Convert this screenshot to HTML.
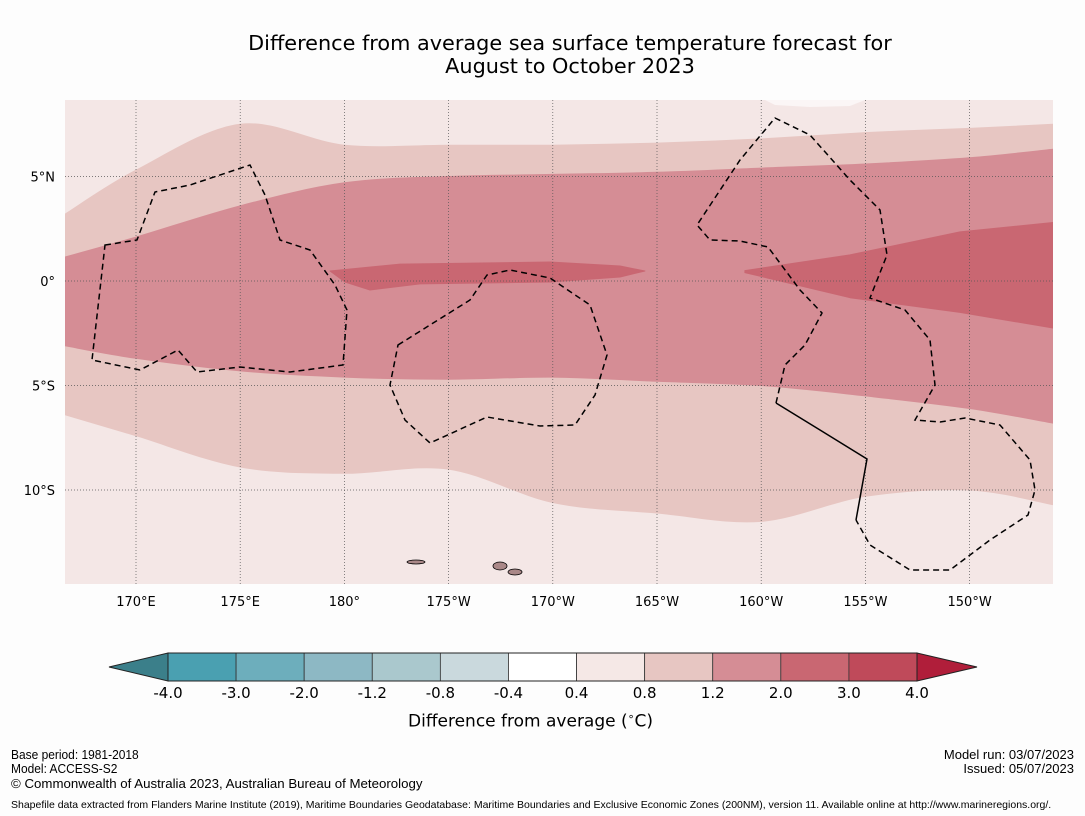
<!DOCTYPE html>
<html><head><meta charset="utf-8">
<style>
body{margin:0;background:#fdfdfd;font-family:"DejaVu Sans","Liberation Sans",sans-serif;}
#wrap{position:relative;width:1085px;height:816px;overflow:hidden;background:#fdfdfd;}
.t{position:absolute;white-space:nowrap;color:#000;}
.f{font-family:"Liberation Sans",sans-serif;}
</style></head>
<body>
<div id="wrap">
<div class="t" style="left:0;width:1140px;text-align:center;top:32px;font-size:20.8px;line-height:23px;">Difference from average sea surface temperature forecast for<br>August to October 2023</div>
<svg id="map" width="1085" height="816" style="position:absolute;left:0;top:0;font-family:'DejaVu Sans',sans-serif"></svg>
<div class="t" style="left:408px;top:710px;font-size:17px;">Difference from average (<sup style="font-size:11px">∘</sup>C)</div>
<div class="t f" style="left:11px;top:748px;font-size:13px;line-height:14px;transform:scaleX(0.92);transform-origin:left;">Base period: 1981-2018<br>Model: ACCESS-S2</div>
<div class="t f" style="left:11px;top:776px;font-size:13px;transform:scaleX(1.02);transform-origin:left;">© Commonwealth of Australia 2023, Australian Bureau of Meteorology</div>
<div class="t f" style="right:11px;top:748px;font-size:13px;line-height:14px;text-align:right;transform:scaleX(1.0);transform-origin:right;">Model run: 03/07/2023<br>Issued: 05/07/2023</div>
<div class="t f" style="left:11px;top:799px;font-size:10.5px;transform:scaleX(1.0);transform-origin:left;">Shapefile data extracted from Flanders Marine Institute (2019), Maritime Boundaries Geodatabase: Maritime Boundaries and Exclusive Economic Zones (200NM), version 11. Available online at http://www.marineregions.org/.</div>
</div>
<script>
const lonSamples=[166.6,170,175,180,185,190,195,200,205,210,214];
const c08Upper=[3.2,5.3,7.5,6.5,6.5,6.5,6.6,6.8,7.1,7.3,7.5];
const c08Lower=[-6.4,-7.4,-8.9,-9.2,-9.0,-10.6,-11.1,-11.5,-10.3,-10.0,-10.7];
const c12Upper=[1.15,2.1,3.6,4.7,5.0,5.1,5.2,5.4,5.6,5.9,6.3];
const c12Lower=[-3.1,-3.7,-4.3,-4.6,-4.7,-4.6,-4.8,-5.0,-5.5,-6.1,-6.8];
const c20BlobLon=[179.31,182.67,189.87,193.23,194.42,193.23,189.87,183.63,181.23,180.03];
const c20BlobLat=[0.48,0.81,0.91,0.72,0.48,0.19,-0.05,-0.14,-0.43,-0.05];
const c20EastLon=[199.22,204.26,209.54,214,214,209.54,204.26,199.22];
const c20EastLat=[0.5,1.25,2.35,2.8,-2.25,-1.5,-0.8,0.4];
const lonTicks=[170,175,180,185,190,195,200,205,210];
const lonTickLabels=["170°E","175°E","180°","175°W","170°W","165°W","160°W","155°W","150°W"];
const latTicks=[5,0,-5,-10];
const latTickLabels=["5°N","0°","5°S","10°S"];
const cbBounds=["-4.0","-3.0","-2.0","-1.2","-0.8","-0.4","0.4","0.8","1.2","2.0","3.0","4.0"];
const cbColors=["#4aa0b1","#6daebc","#8db8c4","#aac8cd","#cad9dd","#ffffff","#f5e8e6","#e7c6c2","#d58d95","#c96772","#bf4a5a"];

const X0=65,X1=1053,Y0=100,Y1=584;
const px=lon=>136+(lon-170)*20.84;
const py=lat=>281-lat*20.9;
const NS="http://www.w3.org/2000/svg";
const svg=document.getElementById('map');
function mk(tag,attrs,parent){const e=document.createElementNS(NS,tag);for(const k in attrs)e.setAttribute(k,attrs[k]);(parent||svg).appendChild(e);return e;}
function smooth(pts,start){
  let d=(start?'M':'L')+pts[0][0].toFixed(1)+' '+pts[0][1].toFixed(1);
  for(let i=0;i<pts.length-1;i++){
    const p0=pts[Math.max(i-1,0)],p1=pts[i],p2=pts[i+1],p3=pts[Math.min(i+2,pts.length-1)];
    const c1=[p1[0]+(p2[0]-p0[0])/6,p1[1]+(p2[1]-p0[1])/6],c2=[p2[0]-(p3[0]-p1[0])/6,p2[1]-(p3[1]-p1[1])/6];
    d+=` C${c1[0].toFixed(1)} ${c1[1].toFixed(1)} ${c2[0].toFixed(1)} ${c2[1].toFixed(1)} ${p2[0].toFixed(1)} ${p2[1].toFixed(1)}`;
  }
  return d;
}
const clip=mk('clipPath',{id:'mc'});mk('rect',{x:X0,y:Y0,width:X1-X0,height:Y1-Y0},clip);
const g=mk('g',{'clip-path':'url(#mc)'});
const bg=mk('rect',{x:X0,y:Y0,width:X1-X0,height:Y1-Y0,fill:'#f4e7e6'},g);


const white=mk('path',{d:'M765 100 L775 105 L810 107 L850 106 L865 100 Z',fill:'#fbf6f6'},g);


function band(up,lo,color,name){
  const U=lonSamples.map((l,i)=>[px(l),py(up[i])]);
  const L=lonSamples.map((l,i)=>[px(l),py(lo[i])]).reverse();
  const d=smooth(U,true)+' '+smooth(L,false)+' Z';
  const p=mk('path',{d,fill:color,stroke:color,'stroke-width':1},g);
  
  
}
band(c08Upper,c08Lower,'#e7c6c2','contour-0-8');
band(c12Upper,c12Lower,'#d58d95','contour-1-2');
function poly(lons,lats,color,name){
  const pts=lons.map((l,i)=>px(l).toFixed(1)+','+py(lats[i]).toFixed(1)).join(' ');
  const p=mk('polygon',{points:pts,fill:color,stroke:color,'stroke-linejoin':'round'},g);
  
  
}
poly(c20BlobLon,c20BlobLat,'#c96772','contour-2-0-central');
poly(c20EastLon,c20EastLat,'#c96772','contour-2-0-east');
lonTicks.forEach(l=>{const ln=mk('line',{x1:px(l),x2:px(l),y1:Y0,y2:Y1,stroke:'#555','stroke-width':0.7,'stroke-dasharray':'1,2'},g);

});
latTicks.forEach(l=>{const ln=mk('line',{x1:X0,x2:X1,y1:py(l),y2:py(l),stroke:'#555','stroke-width':0.7,'stroke-dasharray':'1,2'},g);

});
const eez=[
"M105 245 L137 240 L155 192 L190 185 L250 165 L265 195 L280 240 L310 250 L335 285 L347 310 L343 365 L290 372 L240 367 L197 372 L178 350 L140 370 L92 360 Z",
"M398 345 L470 300 L487 275 L510 270 L550 278 L590 305 L607 355 L595 395 L575 425 L540 426 L487 417 L430 443 L405 420 L390 385 Z",
"M776 403 L785 365 L805 345 L822 313 L800 290 L768 247 L740 241 L710 240 L697 225 L740 160 L775 118 L810 135 L850 180 L880 210 L887 255 L870 298 L905 310 L930 340 L935 385 L915 420 L940 422 L965 418 L1000 425 L1030 460 L1035 490 L1028 515 L990 540 L950 570 L910 570 L870 545 L856 520"];
eez.forEach(d=>{const p=mk('path',{d,fill:'none',stroke:'#000','stroke-width':1.5,'stroke-dasharray':'6,4'},g);

});
const sol=mk('path',{d:'M776 403 L820 430 L867 459 L856 520',fill:'none',stroke:'#000','stroke-width':1.5},g);


[[500,566,7,4],[515,572,7,3],[416,562,9,2]].forEach(a=>{const e=mk('ellipse',{cx:a[0],cy:a[1],rx:a[2],ry:a[3],fill:'#a88',stroke:'#000','stroke-width':0.8},g);

});
lonTicks.forEach((l,i)=>{const t=mk('text',{x:px(l),y:606,'text-anchor':'middle','font-size':13,fill:'#000'});t.textContent=lonTickLabels[i];

});
latTicks.forEach((l,i)=>{const t=mk('text',{x:55,y:py(l)+5,'text-anchor':'end','font-size':13,fill:'#000'});t.textContent=latTickLabels[i];

});
const CB0=168,CB1=917,CBT=653,CBB=681,bw=(CB1-CB0)/cbColors.length;
const lt=mk('polygon',{points:`109,667 ${CB0},${CBT} ${CB0},${CBB}`,fill:'#3b7f8a',stroke:'#222','stroke-width':1});


const rt=mk('polygon',{points:`977,667 ${CB1},${CBT} ${CB1},${CBB}`,fill:'#b01e3a',stroke:'#222','stroke-width':1});


cbColors.forEach((c,i)=>{const r=mk('rect',{x:CB0+i*bw,y:CBT,width:bw,height:CBB-CBT,fill:c,stroke:'#333','stroke-width':0.8});

});
mk('rect',{x:CB0,y:CBT,width:CB1-CB0,height:CBB-CBT,fill:'none',stroke:'#222','stroke-width':1});
cbBounds.forEach((b,i)=>{const t=mk('text',{x:CB0+i*bw,y:698,'text-anchor':'middle','font-size':15,fill:'#000'});t.textContent=b;

});
</script>
</body></html>
